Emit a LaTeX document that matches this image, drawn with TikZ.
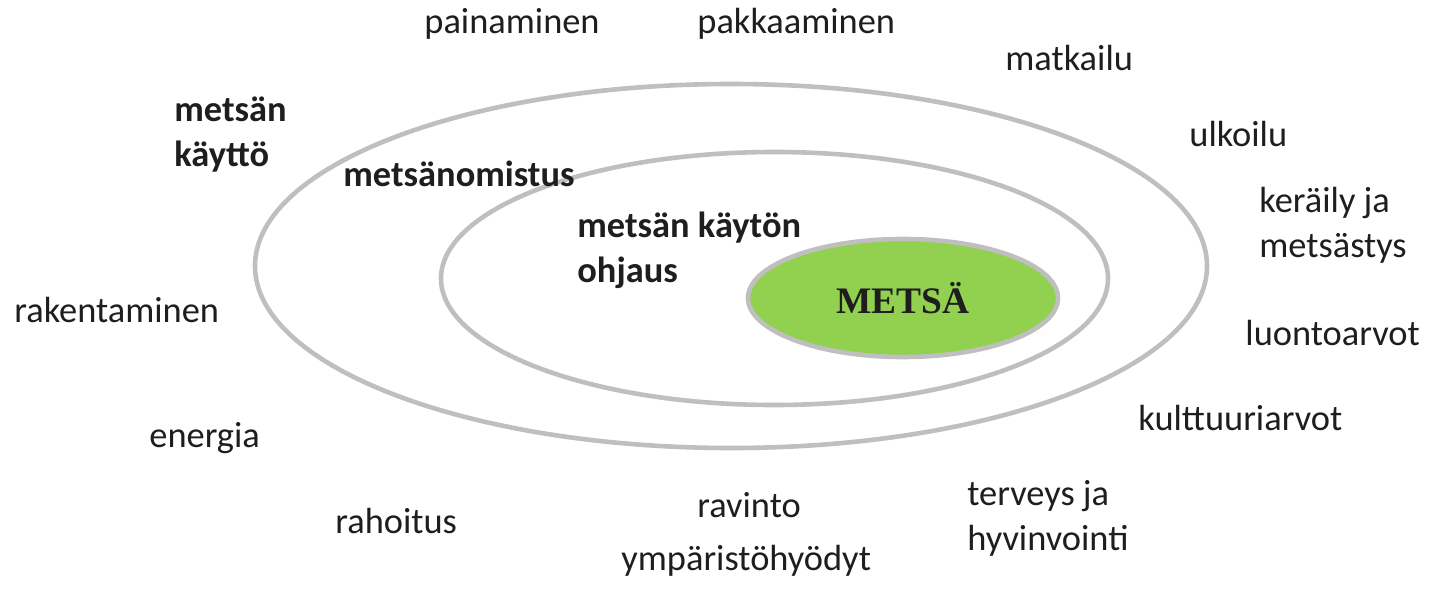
\documentclass[tikz,border=0pt]{standalone}
\usepackage{fontspec}
\setmainfont{Carlito}
\newfontfamily\serifb{Liberation Serif}
\usetikzlibrary{shapes.geometric}
\definecolor{ringgray}{HTML}{BFBFBF}
\definecolor{forestgreen}{HTML}{92D050}
\definecolor{txt}{HTML}{1E1E1E}
\tikzset{
  ring/.style={ellipse, draw=ringgray, line width=2.3pt, inner sep=0pt},
  lbl/.style={anchor=base west, inner sep=0pt, text=txt, font=\fontsize{18.2}{22.5}\selectfont},
  blbl/.style={lbl, font=\fontsize{18.2}{22.2}\selectfont\bfseries},
}
\begin{document}
\begin{tikzpicture}[x=0.5pt, y=-0.5pt]
\useasboundingbox (0,0) rectangle (1430,594);
% rings
\node[ring, minimum width=476pt, minimum height=182pt] (outer) at (731,266) {};
\node[ring, minimum width=333.5pt, minimum height=126.5pt] (middle) at (774.5,278.5) {};
\node[ring, fill=forestgreen, minimum width=155pt, minimum height=59pt,
      text=txt, font=\serifb\fontsize{18.7}{20}\selectfont\bfseries] (metsa) at (903,298) {METSÄ};
% bold ring labels (anchored at the baseline of the last line)
\node[blbl, align=left] (kaytto) at (174,166) {metsän\\käyttö};
\node[blbl] (omistus) at (343,186) {metsänomistus};
\node[blbl, align=left] (ohjaus) at (577,282) {metsän käytön\\ohjaus};
% outer labels
\node[lbl] (painaminen) at (424,33) {painaminen};
\node[lbl] (pakkaaminen) at (697,33) {pakkaaminen};
\node[lbl] (matkailu) at (1005,70) {matkailu};
\node[lbl] (ulkoilu) at (1189,146) {ulkoilu};
\node[lbl, align=left] (keraily) at (1259,257) {keräily ja\\metsästys};
\node[lbl] (luonto) at (1245,345) {luontoarvot};
\node[lbl] (kulttuuri) at (1138,430) {kulttuuriarvot};
\node[lbl] (rakentaminen) at (14,322) {rakentaminen};
\node[lbl] (energia) at (149,447) {energia};
\node[lbl] (rahoitus) at (335,533) {rahoitus};
\node[lbl] (ravinto) at (697,517) {ravinto};
\node[lbl, align=left] (terveys) at (967,550) {terveys ja\\hyvinvointi};
\node[lbl] (ymparisto) at (621,570) {ympäristöhyödyt};
\end{tikzpicture}
\end{document}
